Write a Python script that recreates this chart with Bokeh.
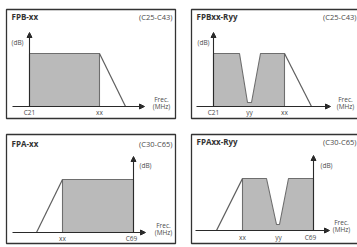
from bokeh.plotting import figure
from bokeh.models import Range1d, Arrow, NormalHead
from bokeh.core.properties import value
from bokeh.embed import file_html
from bokeh.resources import INLINE

# ---- schematic data (x: frequency offset from the dB axis, y: level above baseline) ----
titles = ["FPB-xx", "FPBxx-Ryy", "FPA-xx", "FPAxx-Ryy"]
channel_ranges = ["(C25-C43)", "(C25-C43)", "(C30-C65)", "(C30-C65)"]

band1_x = [0, 0, 70, 70]
band1_y = [0, 53, 53, 0]
band2_x = [0, 0, 26, 34, 38, 47, 71, 71]
band2_y = [0, 53, 53, 4, 4, 53, 53, 0]
band3_x = [-71, -71, 0, 0]
band3_y = [0, 53, 53, 0]
band4_x = [-71, -71, -47, -37, -34, -25, 0, 0]
band4_y = [0, 52, 52, 6, 6, 52, 52, 0]

slope1_x = [70, 96]
slope1_y = [53, 0]
slope2_x = [71, 98]
slope2_y = [53, 0]
slope3_x = [-97, -71]
slope3_y = [0, 53]
slope4_x = [-97, -71]
slope4_y = [0, 52]

ticks1 = ["C21", "xx"]
ticks1_x = [0, 70]
ticks2 = ["C21", "yy", "xx"]
ticks2_x = [0, 36, 71]
ticks3 = ["xx", "C69"]
ticks3_x = [-71, -2]
ticks4 = ["xx", "yy", "C69"]
ticks4_x = [-71, -35, -3]

# axis extents: x-axis start, x-axis end, y-axis top
freq_axis_start = [-17, -17, -121, -118]
freq_axis_end = [115, 117, 12, 16]
level_axis_top = [74, 74, 76, 75]

# panel boxes (local units)
box_x = [(-23, 146), (-22, 150), (-127, 42), (-122, 50)]
box_y = [(-12, 97), (-12, 97), (-11, 98), (-13, 96)]

# label anchors
db_label_pos = [(-12, 64), (-10, 64), (12, 67), (13, 65)]
frec_label_pos = [(132, 7), (132, 7), (30, 7), (28, 8)]
tick_label_y = [-6, -6, -6, -7]
title_y = [90, 90, 89, 89]
range_label_right = [143, 143, 39, 43]

# layout: where each panel's origin (axis crossing) sits on the sheet
origin_x = [29, 213, 133, 313]
origin_y = [106, 106, 232, 230]

bands = [(band1_x, band1_y), (band2_x, band2_y), (band3_x, band3_y), (band4_x, band4_y)]
slopes = [(slope1_x, slope1_y), (slope2_x, slope2_y), (slope3_x, slope3_y), (slope4_x, slope4_y)]
ticks = [(ticks1, ticks1_x), (ticks2, ticks2_x), (ticks3, ticks3_x), (ticks4, ticks4_x)]

FONT = value("Open Sans")
TXT = "#4a4a4a"
AX = "#2a2a2a"
BOX = "#333333"

p = figure(width=357, height=247, x_range=Range1d(0, 357), y_range=Range1d(247, 0),
           x_axis_type=None, y_axis_type=None, output_backend="svg", toolbar_location=None,
           min_border=0, background_fill_color="white", border_fill_color="white")
p.grid.visible = False
p.outline_line_color = None

for i in range(4):
    ox, oy = origin_x[i], origin_y[i]
    X = lambda vals: [ox + v for v in vals]
    Y = lambda vals: [oy - v for v in vals]

    bx0, bx1 = box_x[i]
    by0, by1 = box_y[i]
    p.quad(left=X([bx0]), right=X([bx1]), bottom=Y([by0]), top=Y([by1]),
           fill_color=None, line_color=BOX, line_width=1.3)

    bx, by = bands[i]
    p.patch(X(bx), Y(by), fill_color="#bababa", line_color="#6e6e6e", line_width=1.1)
    sx, sy = slopes[i]
    p.line(X(sx), Y(sy), line_color="#5e5e5e", line_width=1.2)

    # frequency axis
    p.add_layout(Arrow(end=NormalHead(size=5, fill_color=AX, line_color=AX),
                       x_start=X([freq_axis_start[i]])[0], y_start=oy,
                       x_end=X([freq_axis_end[i]])[0], y_end=oy,
                       line_color=AX, line_width=1.1))
    # level axis
    p.add_layout(Arrow(end=NormalHead(size=5, fill_color=AX, line_color=AX),
                       x_start=ox, y_start=oy, x_end=ox, y_end=Y([level_axis_top[i]])[0],
                       line_color=AX, line_width=1.1))

    # titles
    p.text(x=X([bx0 + 5]), y=Y([title_y[i]]), text=[titles[i]], text_font=FONT,
           text_font_size="8px", text_font_style="bold", text_color="#333333",
           text_align="left", text_baseline="middle")
    p.text(x=X([range_label_right[i]]), y=Y([title_y[i]]), text=[channel_ranges[i]],
           text_font=FONT, text_font_size="7.5px", text_color=TXT,
           text_align="right", text_baseline="middle")

    # dB label
    dx, dy = db_label_pos[i]
    p.text(x=X([dx]), y=Y([dy]), text=["(dB)"], text_font=FONT, text_font_size="6.5px",
           text_color=TXT, text_align="center", text_baseline="middle")
    # Frec. label
    rx, ry = frec_label_pos[i]
    p.text(x=X([rx, rx]), y=Y([ry, ry - 7]), text=["Frec.", "(MHz)"], text_font=FONT,
           text_font_size="6.5px", text_color=TXT, text_align="center", text_baseline="middle")
    # tick labels
    tl, tx = ticks[i]
    p.text(x=X(tx), y=Y([tick_label_y[i]] * len(tx)), text=tl, text_font=FONT,
           text_font_size="6.5px", text_color=TXT, text_align="center", text_baseline="middle")

open("out.html", "w").write(file_html(p, INLINE))
